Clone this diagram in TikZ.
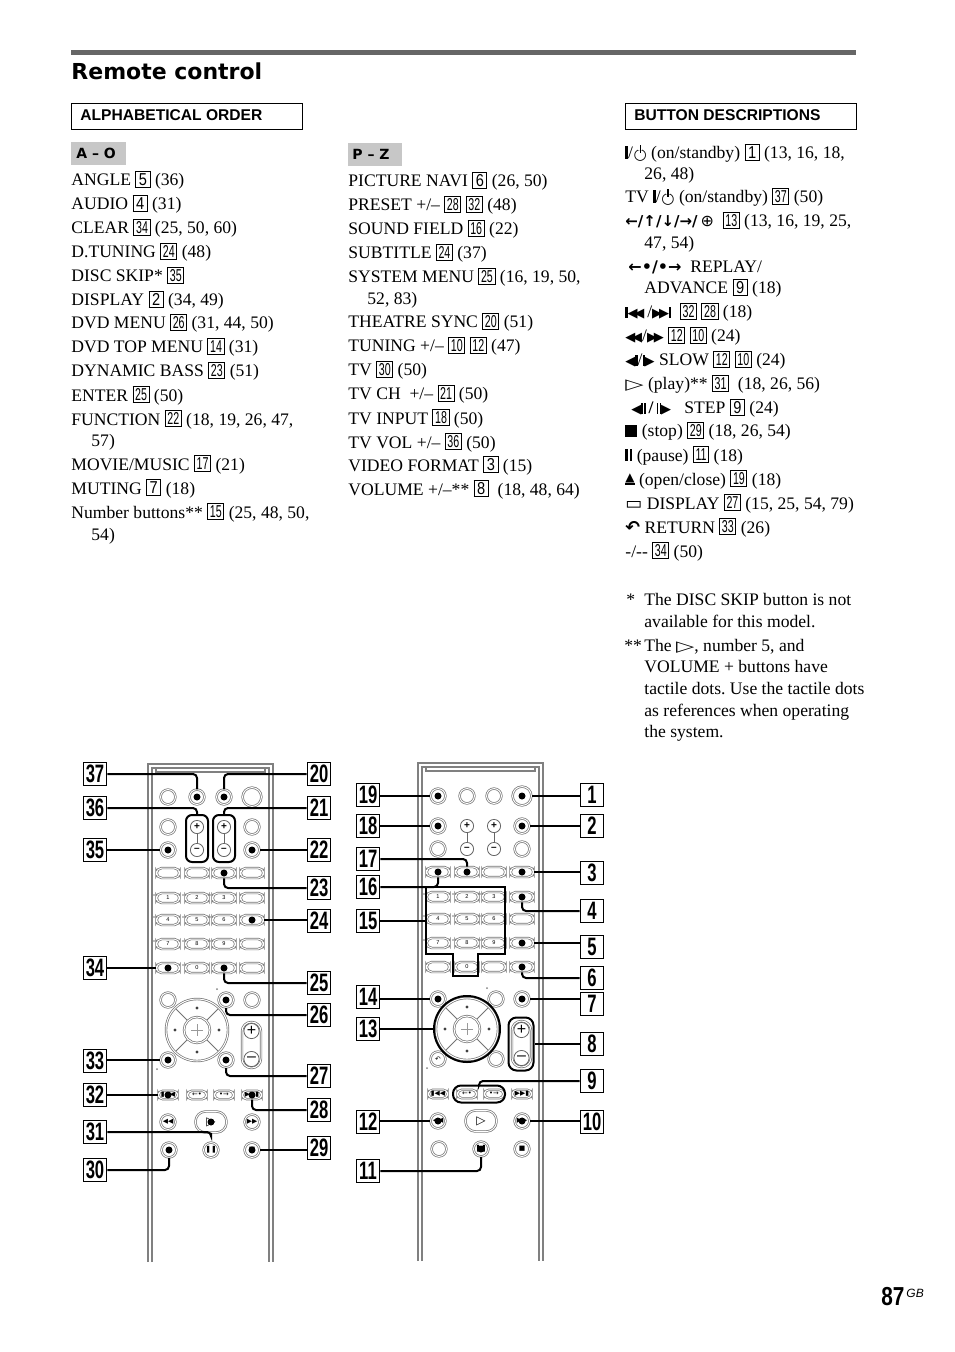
\documentclass[tikz,border=0pt]{standalone}
\usepackage{fontspec}
\usepackage{graphicx}
\setmainfont{Liberation Serif}
\newfontfamily\hvb{Liberation Sans}
\newfontfamily\djv{DejaVu Sans}
\usetikzlibrary{positioning}
\frenchspacing

\newcommand\bodyf{\fontsize{8.8}{11}\selectfont}
\newcommand\numf{\hvb\fontsize{8.6}{8.6}\selectfont}
\newcommand\callf{\hvb\bfseries\fontsize{12.6}{12.6}\selectfont}
\newcommand\bnum[1]{\raisebox{0.4pt}{\fboxsep=0.8pt\fboxrule=0.5pt\numf\fbox{\ifnum#1>9 \scalebox{0.62}[1]{#1}\else\makebox[5pt]{\scalebox{0.85}[1]{#1}}\fi}}}
\newcommand\cn[1]{\scalebox{0.66}[1]{#1}}
% small symbols of the button list
\newcommand\vbar{\rule{1.1pt}{5.6pt}}
\newcommand\trL{{\djv\fontsize{6.5}{6.5}\selectfont ◀}}
\newcommand\trR{{\djv\fontsize{6.5}{6.5}\selectfont ▶}}
\newcommand\pw{\rule{1.3pt}{6.4pt}/\kern0.3pt\ooalign{\raisebox{-0.4pt}{\djv\fontsize{7.6}{7.6}\selectfont ○}\cr\hidewidth\textcolor{white}{\rule[4.4pt]{1.8pt}{2.5pt}}\hidewidth\cr\hidewidth\rule[3.2pt]{0.55pt}{3.6pt}\hidewidth\cr}}
\newcommand\pausesym{\rule{1.3pt}{5.8pt}\kern0.9pt\rule{1.3pt}{5.8pt}}
\newcommand\ejectsym{\vbox{\hbox{\djv\fontsize{6}{6}\selectfont ▲}\kern0.4pt\hrule height 0.8pt}}
\newcommand\playsym{\scalebox{1.35}[0.85]{\djv ▷}}

\begin{document}
\begin{tikzpicture}[x=0.5pt, y=-0.5pt,
    txt/.style={anchor=base west, inner sep=0pt, yshift=-1.5pt, font=\bodyf},
    head/.style={anchor=base west, inner sep=0pt, font=\hvb\bfseries\fontsize{7.8}{7.8}\selectfont},
    tab/.style={anchor=base west, inner sep=0pt, font=\djv\bfseries\fontsize{7}{7}\selectfont},
    body/.style={draw=black!50, line width=0.6pt},
    btn/.style={circle, draw=black!55, line width=0.35pt, double=white, double distance=0.5pt, minimum size=7.4pt, inner sep=0pt},
    pbtn/.style={circle, draw=black!60, line width=0.4pt, minimum size=6.6pt, inner sep=0pt, font=\hvb\bfseries\fontsize{5}{5}\selectfont},
    oval/.style={rectangle, rounded corners=2.6pt, draw=black!55, line width=0.35pt, double=white, double distance=0.5pt, minimum width=11.4pt, minimum height=5pt, inner sep=0pt},
    soval/.style={oval, minimum width=9.4pt, minimum height=4.2pt, rounded corners=2.1pt},
    play/.style={oval, minimum width=15.5pt, minimum height=10.5pt, rounded corners=5pt},
    key/.style={inner sep=0pt, font=\hvb\fontsize{2.8}{2.8}\selectfont},
    icon/.style={inner sep=0pt, font=\djv\fontsize{3.4}{3.4}\selectfont},
    grp/.style={draw, line width=1pt, inner sep=0pt},
    cbox/.style={draw, line width=0.8pt, minimum width=11.5pt, minimum height=11.5pt, inner sep=0pt, font=\callf},
    lead/.style={line width=1pt, rounded corners=2pt}
]
\useasboundingbox (0,0) rectangle (954,1352);

% heading
\draw[black!60, line width=2.5pt] (71,53) -- (856,53);
\node[anchor=base west, inner sep=0pt, font=\djv\bfseries\fontsize{11}{11}\selectfont] (title) at (71,80) {Remote control};
\draw[line width=0.5pt] (71,104) rectangle (302,130);
\node[head] (alpha) at (80,121) {ALPHABETICAL ORDER};
\draw[line width=0.5pt] (625,104) rectangle (856,130);
\node[head] (descr) at (634,121) {BUTTON DESCRIPTIONS};
\fill[black!22] (71,142) rectangle (126,165);
\node[tab] (ao) at (76,159) {A – O};
\fill[black!22] (348,143) rectangle (402,166);
\node[tab] (pz) at (352,160) {P – Z};

% A - O
\node[txt] at (71,183) {ANGLE \bnum{5} (36)};
\node[txt] at (71,207) {AUDIO \bnum{4} (31)};
\node[txt] at (71,231) {CLEAR \bnum{34} (25, 50, 60)};
\node[txt] at (71,255) {D.TUNING \bnum{24} (48)};
\node[txt] at (71,279) {DISC SKIP* \bnum{35}};
\node[txt] at (71,303) {DISPLAY \bnum{2} (34, 49)};
\node[txt] at (71,326) {DVD MENU \bnum{26} (31, 44, 50)};
\node[txt] at (71,350) {DVD TOP MENU \bnum{14} (31)};
\node[txt] at (71,374) {DYNAMIC BASS \bnum{23} (51)};
\node[txt] at (71,398) {ENTER \bnum{25} (50)};
\node[txt] at (71,422) {FUNCTION \bnum{22} (18, 19, 26, 47,};
\node[txt] at (91,443) {57)};
\node[txt] at (71,467) {MOVIE/MUSIC \bnum{17} (21)};
\node[txt] at (71,491) {MUTING \bnum{7} (18)};
\node[txt] at (71,515) {Number buttons** \bnum{15} (25, 48, 50,};
\node[txt] at (91,537) {54)};

% P - Z
\node[txt] at (348,184) {PICTURE NAVI \bnum{6} (26, 50)};
\node[txt] at (348,208) {PRESET +/– \bnum{28} \bnum{32} (48)};
\node[txt] at (348,232) {SOUND FIELD \bnum{16} (22)};
\node[txt] at (348,256) {SUBTITLE \bnum{24} (37)};
\node[txt] at (348,280) {SYSTEM MENU \bnum{25} (16, 19, 50,};
\node[txt] at (367,302) {52, 83)};
\node[txt] at (348,325) {THEATRE SYNC \bnum{20} (51)};
\node[txt] at (348,349) {TUNING +/– \bnum{10} \bnum{12} (47)};
\node[txt] at (348,373) {TV \bnum{30} (50)};
\node[txt] at (348,397) {TV CH\ \ +/– \bnum{21} (50)};
\node[txt] at (348,421) {TV INPUT \bnum{18} (50)};
\node[txt] at (348,445) {TV VOL +/– \bnum{36} (50)};
\node[txt] at (348,468) {VIDEO FORMAT \bnum{3} (15)};
\node[txt] at (348,492) {VOLUME +/–** \bnum{8}\ \ (18, 48, 64)};

% button descriptions
\node[txt] at (625,156) {\pw{} (on/standby) \bnum{1} (13, 16, 18,};
\node[txt] at (644,177) {26, 48)};
\node[txt] at (625,200) {TV \pw{} (on/standby) \bnum{37} (50)};
\node[txt] at (625,224) {{\djv\bfseries\fontsize{7.5}{7.5}\selectfont ←/↑/↓/→/}\,{\djv\fontsize{8}{8}\selectfont ⊕}\ \ \bnum{13} (13, 16, 19, 25,};
\node[txt] at (644,246) {47, 54)};
\node[txt] at (628,270) {{\djv\bfseries\fontsize{8}{8}\selectfont ←•/•→}\ \ REPLAY/};
\node[txt] at (644,291) {ADVANCE \bnum{9} (18)};
\node[txt] at (625,315) {\vbar\trL\kern-1.6pt\trL\,/\trR\kern-1.6pt\trR\vbar\ \ \bnum{32} \bnum{28} (18)};
\node[txt] at (625,339) {\trL\kern-1.6pt\trL/\trR\kern-1.6pt\trR\ \bnum{12} \bnum{10} (24)};
\node[txt] at (625,363) {\trL\vbar/\vbar\trR\ SLOW \bnum{12} \bnum{10} (24)};
\node[txt] at (625,387) {\playsym\ (play)** \bnum{31}\ \ (18, 26, 56)};
\node[txt] at (631,411) {\trL\rule{0.8pt}{5.6pt}\kern0.6pt\rule{0.8pt}{5.6pt}\,\textbf{/}\,\rule{0.8pt}{5.6pt}\kern0.6pt\rule{0.8pt}{5.6pt}\trR\ \ \ STEP \bnum{9} (24)};
\node[txt] at (625,434) {\rule{6pt}{6pt} (stop) \bnum{29} (18, 26, 54)};
\node[txt] at (625,458) {\pausesym\ (pause) \bnum{11} (18)};
\node[txt] at (625,482) {\ejectsym\ (open/close) \bnum{19} (18)};
\node[txt] at (625,506) {{\djv\fontsize{9}{9}\selectfont ▭}\ DISPLAY \bnum{27} (15, 25, 54, 79)};
\node[txt] at (625,530) {{\djv\bfseries ↶}\ RETURN \bnum{33} (26)};
\node[txt] at (625,554) {-/-{}- \bnum{34} (50)};

% footnotes
\node[txt] at (626,602) {*};
\node[txt] at (644,602) {The DISC SKIP button is not};
\node[txt] at (644,624) {available for this model.};
\node[txt] at (624,648) {**};
\node[txt] at (644,648) {The \playsym, number 5, and};
\node[txt] at (644,669) {VOLUME + buttons have};
\node[txt] at (644,691) {tactile dots. Use the tactile dots};
\node[txt] at (644,713) {as references when operating};
\node[txt] at (644,734) {the system.};

% the two remotes
\foreach \s/\ox/\oy in {L/0/0, R/270/-1} {
\begin{scope}[shift={(\ox,\oy)}]
  % body
  \draw[body] (148,1262) -- (148,764) -- (273,764) -- (273,1262);
  \draw[body] (152,1262) -- (152,768) -- (269,768) -- (269,1262);
  \draw[body] (156,768) |- (265,772) -- (265,768);
  % round buttons on top
  \foreach \r/\y in {1/797,2/827,3/850}
    \node[btn] (\s-\r-1) at (168,\y) {};
  \foreach \r/\y in {2/827,3/850}
    \node[btn] (\s-\r-4) at (252,\y) {};
  \node[btn] (\s-1-2) at (197,797) {};
  \node[btn] (\s-1-3) at (224,797) {};
  \node[btn, minimum size=9.4pt] (\s-1-4) at (252,797) {};
  \foreach \c/\x in {2/197,3/224} {
    \node[pbtn] (\s-2-\c) at (\x,827) {+};
    \node[pbtn] (\s-3-\c) at (\x,850) {–};
    \draw[black!60, line width=0.4pt] (\s-2-\c.south) -- (\s-3-\c.north);
  }
  % oval keys
  \foreach \r/\y in {4/873,5/898,6/920,7/944,8/968}
    \foreach \c/\x in {1/168,2/197,3/224,4/252}
      \node[oval] (\s-\r-\c) at (\x,\y) {};
  \foreach \t/\x/\y in {1/168/898,2/197/898,3/224/898,4/168/920,5/197/920,6/224/920,7/168/944,8/197/944,9/224/944,0/197/968} {
    \node[key] at (\x,\y) {\t};
    \fill[black!50] (\x-14,\y-3) circle (0.8);
  }
  % menu row
  \foreach \c/\x in {1/168,2/226,3/252}
    \node[btn] (\s-9-\c) at (\x,1000) {};
  \fill[black!50] (217,989) circle (1);
  % joystick
  \node[btn, minimum size=31pt] (\s-joy) at (197,1030) {};
  \node[btn, minimum size=13pt] (\s-ent) at (197,1030) {};
  \foreach \a in {45,135,225,315}
    \draw[black!55, line width=0.4pt] ([shift={(\a:14)}]\s-joy.center) -- ([shift={(\a:30)}]\s-joy.center);
  \foreach \a in {0,90,180,270}
    \fill[black!75] ([shift={(\a:22)}]\s-joy.center) circle (1.6);
  \draw[black!40, line width=0.3pt] (191,1030) -- (203,1030) (197,1024) -- (197,1036);
  % volume
  \node[oval, minimum width=9.5pt, minimum height=23pt, rounded corners=4.7pt] (\s-vol) at (251.5,1045) {};
  \node[pbtn, minimum size=7.6pt, font=\hvb\fontsize{8}{8}\selectfont] (\s-vup) at (251.5,1031) {+};
  \node[pbtn, minimum size=7.6pt, font=\hvb\fontsize{8}{8}\selectfont] (\s-vdn) at (251.5,1059) {–};
  % return / display
  \node[btn] (\s-10-1) at (168,1060) {};
  \node[btn] (\s-10-2) at (226,1060) {};
  \node[icon] at (168,1060) {↶};
  \fill[black!50] (157,1069) circle (1);
  % skip and replay row
  \foreach \c/\x in {1/168,2/197,3/224,4/252}
    \node[soval] (\s-11-\c) at (\x,1095) {};
  \node[icon] at (168,1095) {▮◀◀};
  \node[icon] at (197,1095) {←•};
  \node[icon] at (224,1095) {•→};
  \node[icon] at (252,1095) {▶▶▮};
  % play row
  \node[btn] (\s-12-1) at (168,1122) {};
  \node[btn] (\s-12-3) at (252,1122) {};
  \node[play] (\s-play) at (211,1122) {};
  \node[icon, font=\djv\fontsize{6}{6}\selectfont] at (211,1122) {▷};
  \node[icon] at (168,1122) {◀◀};
  \node[icon] at (252,1122) {▶▶};
  % bottom row
  \node[btn] (\s-13-1) at (169,1150) {};
  \node[btn] (\s-13-2) at (211,1150) {};
  \node[btn] (\s-13-3) at (252,1150) {};
  \node[icon] at (211,1150) {❚❚};
  \node[icon] at (252,1150) {■};
\end{scope}
}

% groups marked on the remotes
\node[grp, minimum width=11pt, minimum height=23.5pt, rounded corners=3pt] (tvvol) at (197,838.5) {};
\node[grp, minimum width=11pt, minimum height=23.5pt, rounded corners=3pt] (tvch) at (224,838.5) {};
\draw[grp] (426,887) -- (505,887) -- (505,954) -- (478,954) -- (478,976) -- (453,976) -- (453,954) -- (426,954) -- cycle;
\coordinate (blkW) at (426,921);
\node[grp, circle, minimum size=33pt] (joyR) at (467,1029) {};
\node[grp, minimum width=12.5pt, minimum height=26.5pt, rounded corners=4pt] (volR) at (521,1044) {};
\node[grp, minimum width=26pt, minimum height=8.5pt, rounded corners=4pt] (stepR) at (479,1094) {};

% numbered call-outs
\foreach \n/\x/\y in {37/95/774, 36/95/808, 35/95/850, 34/95/968, 33/95/1061, 32/95/1095, 31/95/1132, 30/95/1170,
    20/319/774, 21/319/808, 22/319/850, 23/319/888, 24/319/921, 25/319/983, 26/319/1015, 27/319/1076, 28/319/1110, 29/319/1148,
    19/368/795, 18/368/826, 17/368/859, 16/368/887, 15/368/921, 14/368/997, 13/368/1029, 12/368/1122, 11/368/1171,
    1/592/795, 2/592/826, 3/592/873, 4/592/911, 5/592/947, 6/592/978, 7/592/1004, 8/592/1044, 9/592/1081, 10/592/1122}
  \node[cbox] (c\n) at (\x,\y) {\cn{\n}};

% leader lines, left remote
\draw[lead] (c37.east) -| (L-1-2);
\draw[lead] (c20.west) -| (L-1-3);
\draw[lead] (c36.east) -| (tvvol.north);
\draw[lead] (c21.west) -| (tvch.north);
\draw[lead] (L-3-1) -- (L-3-1 -| c35.east);
\draw[lead] (L-3-4) -- (L-3-4 -| c22.west);
\draw[lead] (c23.west) -| (L-4-3);
\draw[lead] (L-6-4) -- (L-6-4 -| c24.west);
\draw[lead] (L-8-1) -- (L-8-1 -| c34.east);
\draw[lead] (c25.west) -| (L-8-3);
\draw[lead] (c26.west) -| (L-9-2);
\draw[lead] (L-10-1) -- (L-10-1 -| c33.east);
\draw[lead] (c27.west) -| (L-10-2);
\draw[lead] (L-11-1) -- (L-11-1 -| c32.east);
\draw[lead] (c28.west) -| (L-11-4);
\draw[lead] (c31.east) -| (L-play);
\draw[lead] (L-13-3) -- (L-13-3 -| c29.west);
\draw[lead] (c30.east) -| (L-13-1);

% leader lines, right remote
\draw[lead] (R-1-1) -- (R-1-1 -| c19.east);
\draw[lead] (R-1-4) -- (R-1-4 -| c1.west);
\draw[lead] (R-2-1) -- (R-2-1 -| c18.east);
\draw[lead] (R-2-4) -- (R-2-4 -| c2.west);
\draw[lead] (c17.east) -| (R-4-2);
\draw[lead] (c16.east) -| (R-4-1);
\draw[lead] (R-4-4) -- (R-4-4 -| c3.west);
\draw[lead] (c4.west) -| (R-5-4);
\draw[lead] (c15.east) -- (blkW);
\draw[lead] (R-7-4) -- (R-7-4 -| c5.west);
\draw[lead] (c6.west) -| (R-8-4);
\draw[lead] (R-9-1) -- (R-9-1 -| c14.east);
\draw[lead] (R-9-3) -- (R-9-3 -| c7.west);
\draw[lead] (c13.east) -- (joyR.west);
\draw[lead] (c8.west) -- (c8.west -| volR.east);
\draw[lead] (c9.west) -| (stepR.north);
\draw[lead] (R-12-1) -- (R-12-1 -| c12.east);
\draw[lead] (R-12-3) -- (R-12-3 -| c10.west);
\draw[lead] (c11.east) -| (R-13-2);

% end dots
\foreach \b in {L-1-2,L-1-3,L-3-1,L-3-4,L-4-3,L-6-4,L-8-1,L-8-3,L-9-2,L-10-1,L-10-2,L-11-1,L-11-4,L-play,L-13-3,L-13-1,
    R-1-1,R-1-4,R-2-1,R-2-4,R-4-2,R-4-1,R-4-4,R-5-4,R-7-4,R-8-4,R-9-1,R-9-3,R-12-1,R-12-3,R-13-2}
  \fill (\b) circle (3.5);

% page number
\node[anchor=base west, inner sep=0pt, font=\hvb\bfseries\fontsize{13}{13}\selectfont] (page) at (881,1305) {\scalebox{0.8}[1]{87}};
\node[anchor=base west, inner sep=0pt, font=\hvb\itshape\fontsize{6}{6}\selectfont] (gb) at (906,1297) {GB};
\end{tikzpicture}
\end{document}
